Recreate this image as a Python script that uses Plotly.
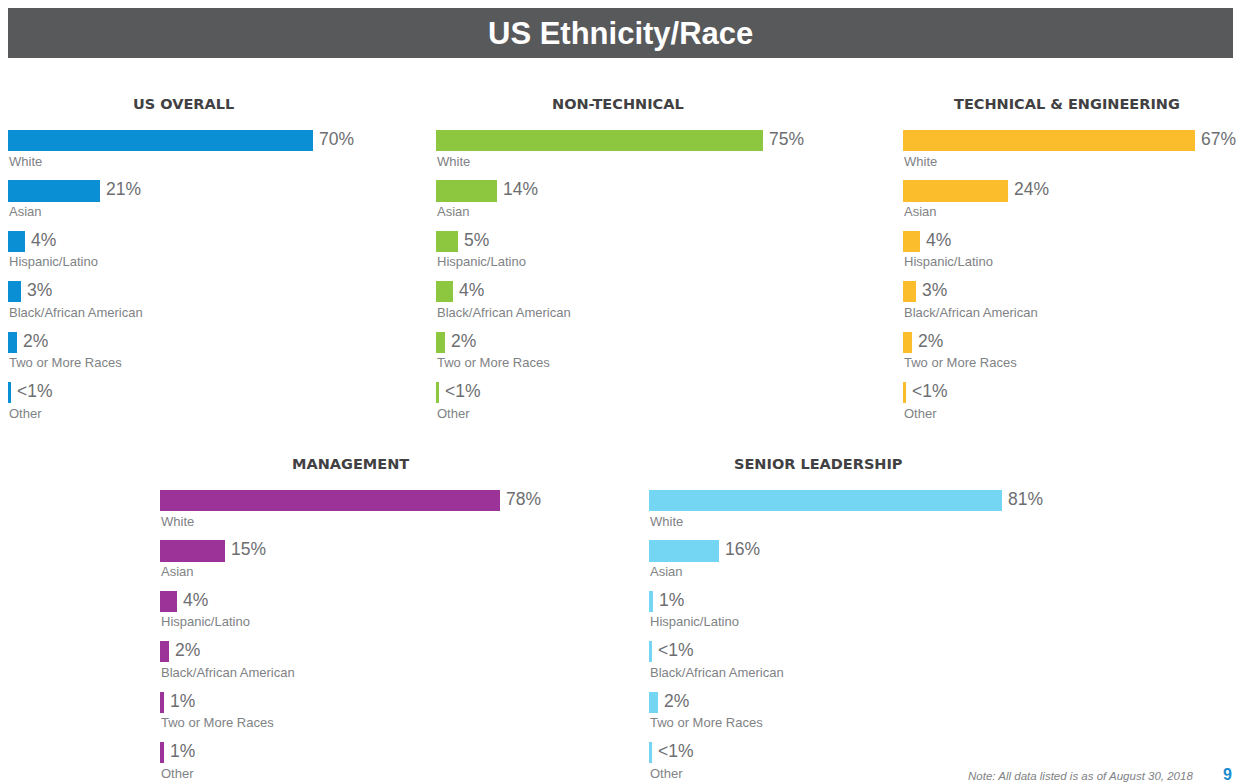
import plotly.graph_objects as go

# The page body has an 8px margin, so the figure sits at (8, 8) in the window.
OFF = 8
W, H = 1246 - OFF, 784 - OFF

categories = ["White", "Asian", "Hispanic/Latino", "Black/African American", "Two or More Races", "Other"]

panel_titles = ["US OVERALL", "NON-TECHNICAL", "TECHNICAL & ENGINEERING", "MANAGEMENT", "SENIOR LEADERSHIP"]

us_overall = [70, 21, 4, 3, 2, 0.8]
us_overall_labels = ["70%", "21%", "4%", "3%", "2%", "<1%"]

non_technical = [75, 14, 5, 4, 2, 0.8]
non_technical_labels = ["75%", "14%", "5%", "4%", "2%", "<1%"]

technical = [67, 24, 4, 3, 2, 0.8]
technical_labels = ["67%", "24%", "4%", "3%", "2%", "<1%"]

management = [78, 15, 4, 2, 1, 1]
management_labels = ["78%", "15%", "4%", "2%", "1%", "1%"]

senior = [81, 16, 1, 0.7, 2, 0.7]
senior_labels = ["81%", "16%", "1%", "<1%", "2%", "<1%"]

colors = ["#0a8fd4", "#8dc63f", "#fcbd2d", "#9b3398", "#74d6f3"]

series = [us_overall, non_technical, technical, management, senior]
labels = [us_overall_labels, non_technical_labels, technical_labels, management_labels, senior_labels]


def px(x):
    return (x - OFF) / W


def py(y):
    return 1 - (y - OFF) / H


# layout geometry (window pixels)
PX_PER_PCT = 4.36
x_starts = [8, 436, 903, 160, 649]
x_ranges = [80, 80, 75, 85, 85]
row_top = [109.5, 109.5, 109.5, 469.5, 469.5]
PITCH = 51.3
title_x = [183, 618, 1067, 350, 818]
title_y = [104, 104, 104, 464, 464]

fig = go.Figure()
annotations = []
layout_axes = {}

for i in range(5):
    n = "" if i == 0 else str(i + 1)
    xa, ya = "x" + n, "y" + n
    fig.add_trace(go.Bar(
        x=series[i], y=categories, orientation="h",
        marker=dict(color=colors[i], line=dict(width=0)),
        width=0.42,
        cliponaxis=False,
        xaxis=xa, yaxis=ya, hoverinfo="skip", showlegend=False,
    ))
    x0 = x_starts[i]
    x1 = x0 + x_ranges[i] * PX_PER_PCT
    y_top = row_top[i]
    y_bot = y_top + 6 * PITCH
    layout_axes["xaxis" + n] = dict(domain=[px(x0), px(x1)], range=[0, x_ranges[i]],
                                    visible=False, fixedrange=True, anchor=ya)
    layout_axes["yaxis" + n] = dict(domain=[py(y_bot), py(y_top)],
                                    categoryorder="array", categoryarray=categories,
                                    autorange="reversed", visible=False, anchor=xa)
    for c, v, t in zip(categories, series[i], labels[i]):
        annotations.append(dict(
            x=0, y=c, xref=xa, yref=ya, text=c, showarrow=False,
            xanchor="left", yanchor="middle", yshift=-21, xshift=-1,
            font=dict(size=13, color="#808285", family="Liberation Sans, Arial"),
        ))
        annotations.append(dict(
            x=v, y=c, xref=xa, yref=ya, text=t, showarrow=False,
            xanchor="left", yanchor="middle", xshift=4, yshift=1,
            font=dict(size=17.5, color="#6d6e71", family="Liberation Sans, Arial"),
        ))
    annotations.append(dict(
        x=px(title_x[i]), y=py(title_y[i]), xref="paper", yref="paper",
        text="<b>" + panel_titles[i].replace("&", "&amp;") + "</b>", showarrow=False,
        xanchor="center", yanchor="middle",
        font=dict(size=14.5, color="#414042", family="DejaVu Sans"),
    ))

annotations.append(dict(
    x=px(620), y=py(34), xref="paper", yref="paper",
    text="<b>US Ethnicity/Race</b>", showarrow=False, xanchor="center", yanchor="middle",
    font=dict(size=31, color="white", family="Liberation Sans, Arial"),
))
annotations.append(dict(
    x=px(1195), y=py(776), xref="paper", yref="paper",
    text="<i>Note: All data listed is as of August 30, 2018</i>", showarrow=False,
    xanchor="right", yanchor="middle",
    font=dict(size=11.5, color="#808285", family="Liberation Sans, Arial"),
))
annotations.append(dict(
    x=px(1227), y=py(774), xref="paper", yref="paper",
    text="<b>9</b>", showarrow=False, xanchor="center", yanchor="middle",
    font=dict(size=16, color="#1a8ccf", family="Liberation Sans, Arial"),
))

fig.update_layout(
    width=W, height=H,
    margin=dict(l=0, r=0, t=0, b=0),
    paper_bgcolor="white", plot_bgcolor="white",
    bargap=0,
    annotations=annotations,
    shapes=[dict(type="rect", xref="paper", yref="paper",
                 x0=px(7), x1=px(1233), y0=py(58), y1=py(8),
                 fillcolor="#58595b", line=dict(width=0), layer="below")],
    **layout_axes,
)

fig.write_html("out.html")
